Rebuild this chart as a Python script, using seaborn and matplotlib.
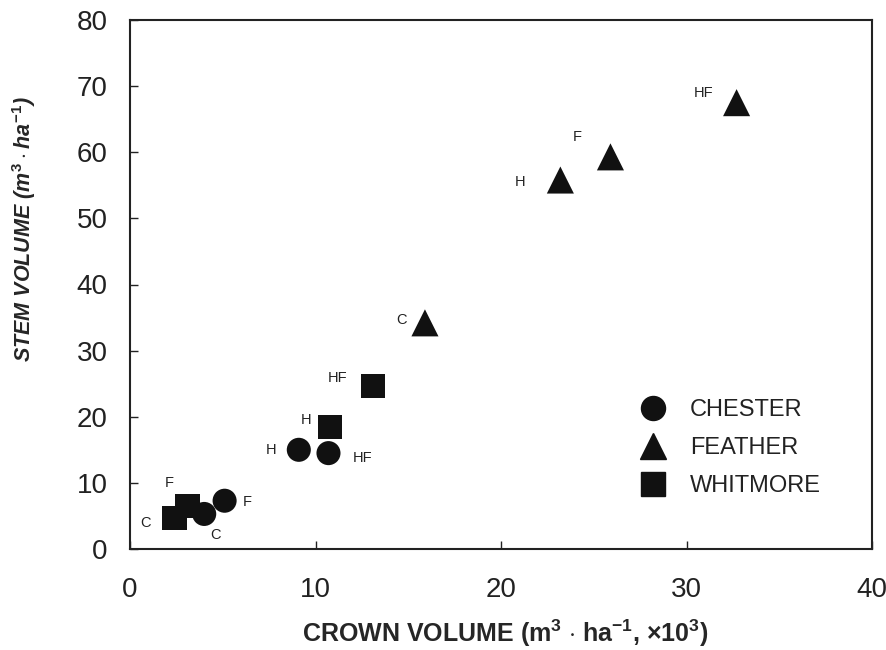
import matplotlib
matplotlib.use("Agg")
import matplotlib.pyplot as plt
import seaborn as sns
import pandas as pd
from matplotlib.lines import Line2D

treatments = ["C", "F", "H", "HF"]
chester_crown = [4.0, 5.1, 9.1, 10.7]
chester_stem = [5.3, 7.3, 15.0, 14.5]
feather_crown = [15.9, 25.9, 23.2, 32.7]
feather_stem = [34.2, 59.3, 55.8, 67.5]
whitmore_crown = [2.4, 3.1, 10.8, 13.1]
whitmore_stem = [4.7, 6.5, 18.5, 24.7]

rows = []
for site, xs, ys in [("WHITMORE", whitmore_crown, whitmore_stem),
                     ("CHESTER", chester_crown, chester_stem),
                     ("FEATHER", feather_crown, feather_stem)]:
    for t, x, y in zip(treatments, xs, ys):
        rows.append({"site": site, "treatment": t, "crown": x, "stem": y})
df = pd.DataFrame(rows)

# label offsets in pixels (dx, dy)
offsets = {
    ("CHESTER", "C"): (11, -21), ("CHESTER", "F"): (23, -1),
    ("CHESTER", "H"): (-28, 0), ("CHESTER", "HF"): (34, -5),
    ("FEATHER", "C"): (-23, 3), ("FEATHER", "F"): (-33, 20),
    ("FEATHER", "H"): (-40, -2), ("FEATHER", "HF"): (-33, 10),
    ("WHITMORE", "C"): (-29, -5), ("WHITMORE", "F"): (-18, 23),
    ("WHITMORE", "H"): (-24, 7), ("WHITMORE", "HF"): (-35, 8),
}
markers = {"CHESTER": "o", "FEATHER": "^", "WHITMORE": "s"}
sizes = {"CHESTER": 300, "FEATHER": 380, "WHITMORE": 300}

sns.set_style("ticks")
plt.rcParams["font.family"] = ["Liberation Sans", "DejaVu Sans"]
plt.rcParams["mathtext.fontset"] = "custom"
plt.rcParams["mathtext.rm"] = "Liberation Sans:bold"
plt.rcParams["mathtext.it"] = "Liberation Sans:bold:italic"
plt.rcParams["mathtext.bf"] = "Liberation Sans:bold"

fig = plt.figure(figsize=(8.86, 6.5), dpi=100)
ax = fig.add_axes([130 / 886, 1 - 549 / 650, 742 / 886, 529 / 650])

for site in ["WHITMORE", "CHESTER", "FEATHER"]:
    sub = df[df["site"] == site]
    sns.scatterplot(data=sub, x="crown", y="stem", marker=markers[site],
                    s=sizes[site], color="#111111", edgecolor="none",
                    linewidth=0, ax=ax, legend=False, zorder=3)
    for _, r in sub.iterrows():
        dx, dy = offsets[(site, r["treatment"])]
        ax.annotate(r["treatment"], (r["crown"], r["stem"]),
                    xytext=(dx, dy), textcoords="offset pixels",
                    ha="center", va="center", fontsize=10.5, color="#222222")

ax.set_xlim(0, 40)
ax.set_ylim(0, 80)
ax.set_xticks([0, 10, 20, 30, 40])
ax.set_yticks(range(0, 81, 10))
ax.tick_params(direction="in", length=6, width=1, labelsize=20,
               colors="#222222")
ax.tick_params(axis="y", pad=16)
ax.tick_params(axis="x", pad=20)
for sp in ax.spines.values():
    sp.set_linewidth(1.5)
    sp.set_color("#222222")

ax.set_xlabel(r"CROWN VOLUME (m$^{3}$ $\cdot$ ha$^{-1}$, $\times$10$^{3}$)",
              fontsize=18, fontweight="bold")
ax.xaxis.set_label_coords(0.506, -0.13)
ax.set_ylabel(r"STEM VOLUME ($m^{3}\cdot ha^{-1}$)", fontsize=15.5,
              fontweight="bold", fontstyle="italic")
ax.yaxis.set_label_coords(-0.124, 0.605)

handles = [Line2D([], [], marker=markers[s], color="#111111", linestyle="none",
                  markersize=(19.4 if s == "FEATHER" else 17.3))
           for s in ["CHESTER", "FEATHER", "WHITMORE"]]
ax.legend(handles, ["CHESTER", "FEATHER", "WHITMORE"], loc="upper left",
          bbox_to_anchor=(0.689, 0.283), frameon=False, fontsize=17,
          handlelength=1.0, handletextpad=1.05, labelspacing=0.68,
          borderpad=0, borderaxespad=0, labelcolor="#222222")

fig.savefig("out.png", dpi=100)
